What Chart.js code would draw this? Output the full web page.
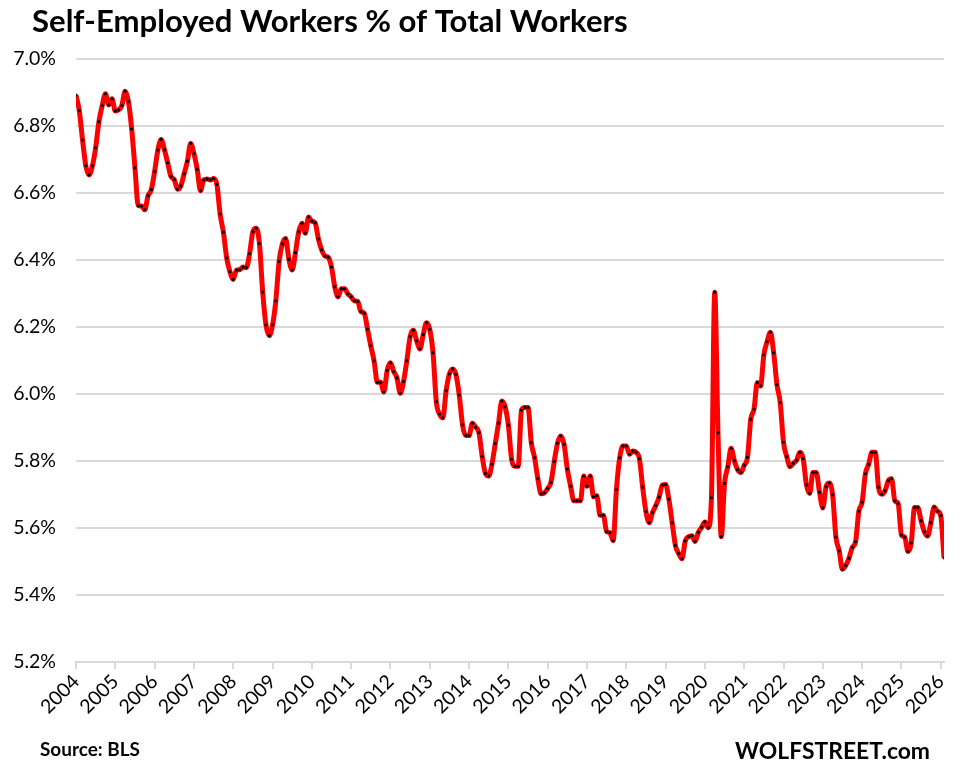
<!DOCTYPE html>
<html>
<head>
<meta charset="utf-8">
<script src="https://cdn.jsdelivr.net/npm/chart.js@4.4.1/dist/chart.umd.min.js"></script>
<style>
    body { margin: 0; background: #fff; }
</style>
</head>
<body>
<canvas id="myChart" width="960" height="770"></canvas>

<script>
    // monthly data, Jan 2004 .. Feb 2026
    var startYear = 2004;
    var yearTicks = [2004, 2005, 2006, 2007, 2008, 2009, 2010, 2011, 2012, 2013, 2014, 2015,
                     2016, 2017, 2018, 2019, 2020, 2021, 2022, 2023, 2024, 2025, 2026];
    var yTicks = [5.2, 5.4, 5.6, 5.8, 6.0, 6.2, 6.4, 6.6, 6.8, 7.0];

    var selfEmployedPct = [
        6.892, 6.846, 6.758, 6.681, 6.654, 6.681, 6.735, 6.813, 6.861, 6.896, 6.863, 6.881, // 2004
        6.845, 6.848, 6.861, 6.904, 6.873, 6.791, 6.675, 6.562, 6.561, 6.550, 6.592, 6.610, // 2005
        6.664, 6.728, 6.760, 6.729, 6.690, 6.649, 6.640, 6.611, 6.621, 6.657, 6.695, 6.748, // 2006
        6.718, 6.671, 6.607, 6.639, 6.642, 6.639, 6.643, 6.626, 6.537, 6.483, 6.406, 6.365, // 2007
        6.342, 6.370, 6.371, 6.379, 6.377, 6.419, 6.484, 6.495, 6.449, 6.304, 6.206, 6.174, // 2008
        6.206, 6.278, 6.395, 6.448, 6.464, 6.402, 6.370, 6.422, 6.484, 6.510, 6.480, 6.528, // 2009
        6.516, 6.511, 6.463, 6.430, 6.412, 6.408, 6.379, 6.320, 6.290, 6.314, 6.314, 6.299, // 2010
        6.290, 6.278, 6.276, 6.246, 6.241, 6.194, 6.144, 6.099, 6.035, 6.035, 6.006, 6.070, // 2011
        6.093, 6.067, 6.048, 6.002, 6.037, 6.099, 6.171, 6.190, 6.159, 6.134, 6.177, 6.213, // 2012
        6.193, 6.123, 5.977, 5.940, 5.929, 6.010, 6.060, 6.075, 6.058, 5.997, 5.908, 5.876, // 2013
        5.876, 5.913, 5.901, 5.885, 5.814, 5.763, 5.755, 5.791, 5.852, 5.913, 5.979, 5.962, // 2014
        5.907, 5.805, 5.784, 5.784, 5.952, 5.960, 5.960, 5.855, 5.810, 5.747, 5.702, 5.705, // 2015
        5.718, 5.736, 5.798, 5.853, 5.875, 5.850, 5.776, 5.725, 5.681, 5.681, 5.681, 5.755, // 2016
        5.725, 5.755, 5.693, 5.696, 5.638, 5.638, 5.589, 5.586, 5.562, 5.715, 5.810, 5.845, // 2017
        5.845, 5.820, 5.830, 5.826, 5.807, 5.722, 5.649, 5.616, 5.646, 5.667, 5.692, 5.728, // 2018
        5.730, 5.686, 5.616, 5.548, 5.524, 5.508, 5.561, 5.574, 5.577, 5.560, 5.587, 5.602, // 2019
        5.618, 5.601, 5.690, 6.304, 5.884, 5.574, 5.733, 5.783, 5.838, 5.801, 5.774, 5.766, // 2020
        5.787, 5.811, 5.924, 5.955, 6.034, 6.024, 6.117, 6.156, 6.184, 6.123, 6.028, 5.974, // 2021
        5.856, 5.813, 5.783, 5.793, 5.802, 5.826, 5.807, 5.729, 5.703, 5.766, 5.766, 5.707, // 2022
        5.660, 5.723, 5.734, 5.699, 5.573, 5.532, 5.477, 5.488, 5.510, 5.542, 5.559, 5.650, // 2023
        5.677, 5.762, 5.790, 5.826, 5.826, 5.722, 5.701, 5.711, 5.741, 5.747, 5.681, 5.673, // 2024
        5.579, 5.573, 5.530, 5.555, 5.661, 5.661, 5.622, 5.589, 5.576, 5.616, 5.663, 5.650, // 2025
        5.637, 5.511                                                                         // 2026
    ];

    var points = selfEmployedPct.map(function (v, i) {
        return { x: startYear + i / 12, y: v };
    });

    // draws text scaled to fill a given width
    function fitText(ctx, text, weight, family, x, y, width, align) {
        ctx.font = weight + ' 100px ' + family;
        var w = ctx.measureText(text).width;
        var size = 100 * width / w;
        ctx.font = weight + ' ' + size.toFixed(2) + 'px ' + family;
        ctx.textAlign = align;
        ctx.fillText(text, x, y);
    }

    var textPlugin = {
        id: 'texts',
        beforeDraw: function (chart) {
            var ctx = chart.ctx;
            ctx.save();
            ctx.fillStyle = '#fff';
            ctx.fillRect(0, 0, chart.width, chart.height);
            ctx.restore();
        },
        afterDraw: function (chart) {
            var ctx = chart.ctx;
            ctx.save();
            ctx.fillStyle = '#000';
            ctx.textBaseline = 'alphabetic';
            fitText(ctx, 'Self-Employed Workers % of Total Workers', 'bold', 'Lato', 32, 32, 596, 'left');
            fitText(ctx, 'Source: BLS', 'bold', 'Lato', 40, 756, 100, 'left');
            fitText(ctx, 'WOLFSTREET.com', 'bold', 'Lato', 930, 759, 195, 'right');
            ctx.restore();
        }
    };

    var ctx = document.getElementById("myChart");
    var myChart = new Chart(ctx, {
        type: 'line',
        data: {
            datasets: [{
                data: points,
                borderColor: '#ff0000',
                borderWidth: 5,
                cubicInterpolationMode: 'monotone',
                pointRadius: 1.6,
                pointBorderWidth: 0,
                pointBackgroundColor: '#000',
                pointHoverRadius: 1.6
            }]
        },
        plugins: [textPlugin],
        options: {
            responsive: false,
            animation: false,
            devicePixelRatio: 1,
            layout: {
                padding: { top: 59, right: 16, left: 0, bottom: 0 }
            },
            plugins: {
                legend: { display: false },
                tooltip: { enabled: false }
            },
            scales: {
                x: {
                    type: 'linear',
                    min: startYear,
                    max: startYear + (selfEmployedPct.length - 1) / 12,
                    afterBuildTicks: function (scale) {
                        scale.ticks = yearTicks.map(function (v) { return { value: v }; });
                    },
                    afterFit: function (scale) { scale.height = 108; },
                    grid: {
                        drawOnChartArea: false,
                        drawTicks: true,
                        tickLength: 7,
                        color: '#d9d9d9',
                        lineWidth: 2
                    },
                    border: { display: true, color: '#d9d9d9', width: 2 },
                    ticks: {
                        autoSkip: false,
                        minRotation: 45,
                        maxRotation: 45,
                        padding: 1,
                        color: '#000',
                        font: { family: 'Lato', size: 19.5 },
                        callback: function (v) { return String(Math.round(v)); }
                    }
                },
                y: {
                    min: 5.2,
                    max: 7.0,
                    afterBuildTicks: function (scale) {
                        scale.ticks = yTicks.map(function (v) { return { value: v }; });
                    },
                    afterFit: function (scale) { scale.width = 76; },
                    grid: {
                        drawTicks: false,
                        color: '#d9d9d9',
                        lineWidth: 2
                    },
                    border: { display: false },
                    ticks: {
                        padding: 20,
                        color: '#000',
                        font: { family: 'Lato', size: 19.5 },
                        callback: function (v) { return v.toFixed(1) + '%'; }
                    }
                }
            }
        }
    });
</script>
</body>
</html>
